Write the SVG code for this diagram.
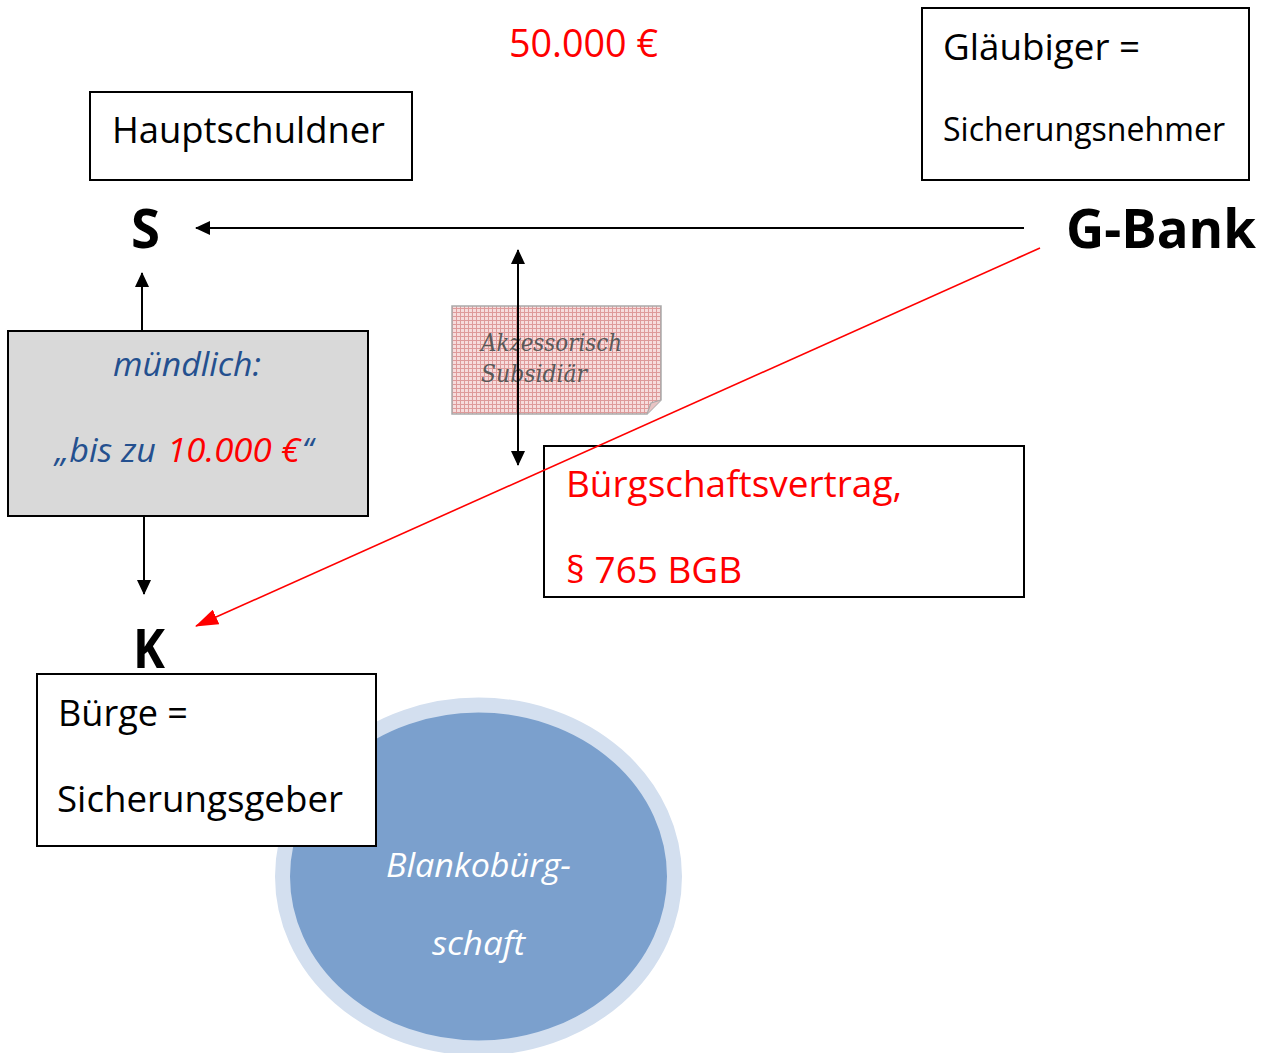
<svg xmlns="http://www.w3.org/2000/svg" width="1264" height="1053" viewBox="0 0 1264 1053">
<style>
.t{font-family:"Open Sans","Noto Sans","DejaVu Sans",sans-serif;}
.box{fill:#fff;stroke:#000;stroke-width:2;}
.b{font-weight:bold;}
.i{font-style:italic;}
.red{fill:#ff0000;}
.blue{fill:#24508f;}
.ln{stroke:#000;stroke-width:2;fill:none;}
.rl{stroke:#ff0000;stroke-width:1.6;fill:none;}
</style>
<defs>
<marker id="ah" markerUnits="userSpaceOnUse" markerWidth="16" markerHeight="14" refX="14" refY="7" orient="auto-start-reverse">
<path d="M0,0 L15,7 L0,14 Z" fill="#000"/>
</marker>
<marker id="ahr" markerUnits="userSpaceOnUse" markerWidth="24" markerHeight="16" refX="22" refY="8" orient="auto">
<path d="M0,0 L23,8 L0,16 Z" fill="#ff0000"/>
</marker>
<pattern id="grid" patternUnits="userSpaceOnUse" width="4" height="4">
<rect width="4" height="4" fill="#f6dcdc"/>
<path d="M0,0.5 H4 M0.5,0 V4" stroke="#de9a9a" stroke-width="1"/>
</pattern>
</defs>

<text class="t red" x="509" y="57" font-size="38" textLength="149" lengthAdjust="spacingAndGlyphs">50.000 €</text>

<g id="glaeubiger">
<rect class="box" x="922" y="8" width="327" height="172"/>
<text class="t" x="943" y="60" font-size="36" textLength="197" lengthAdjust="spacingAndGlyphs">Gläubiger =</text>
<text class="t" x="943" y="141" font-size="32" textLength="282" lengthAdjust="spacingAndGlyphs">Sicherungsnehmer</text>
</g>

<g id="hauptschuldner">
<rect class="box" x="90" y="92" width="322" height="88"/>
<text class="t" x="112" y="143" font-size="36" textLength="273" lengthAdjust="spacingAndGlyphs">Hauptschuldner</text>
</g>

<g id="S"><text class="t b" x="131" y="248" font-size="54" textLength="29" lengthAdjust="spacingAndGlyphs">S</text></g>
<g id="GBank"><text class="t b" x="1066" y="248" font-size="54" textLength="190" lengthAdjust="spacingAndGlyphs">G-Bank</text></g>

<g id="note">
<path d="M452,306 H661 V400 L647,414 H452 Z" fill="url(#grid)" stroke="#aaaaaa" stroke-width="1.5"/>
<path d="M647,414 L651,403 L661,400" fill="#e8c4c4" stroke="#aaaaaa" stroke-width="1.2"/>
<text x="481" y="351" font-family="'DejaVu Serif','Liberation Serif',serif" font-style="italic" font-size="24" fill="#595959" textLength="141" lengthAdjust="spacingAndGlyphs">Akzessorisch</text>
<text x="481" y="382" font-family="'DejaVu Serif','Liberation Serif',serif" font-style="italic" font-size="24" fill="#595959" textLength="106" lengthAdjust="spacingAndGlyphs">Subsidiär</text>
</g>

<g id="muendlich">
<rect x="8" y="331" width="360" height="185" fill="#d9d9d9" stroke="#000" stroke-width="2"/>
<text class="t i blue" x="113" y="376" font-size="32" textLength="148" lengthAdjust="spacingAndGlyphs">mündlich:</text>
<text class="t i blue" x="55" y="462" font-size="32" textLength="101" lengthAdjust="spacingAndGlyphs">„bis zu</text>
<text class="t i red" x="167" y="462" font-size="32" textLength="133" lengthAdjust="spacingAndGlyphs">10.000 €</text>
<text class="t i blue" x="302" y="462" font-size="32">“</text>
</g>

<g id="buergschaft">
<rect class="box" x="544" y="446" width="480" height="151"/>
<text class="t red" x="566" y="497" font-size="36" textLength="336" lengthAdjust="spacingAndGlyphs">Bürgschaftsvertrag,</text>
<text class="t red" x="566" y="583" font-size="36" textLength="176" lengthAdjust="spacingAndGlyphs">§ 765 BGB</text>
</g>

<g id="blanko">
<ellipse cx="478.5" cy="876.5" rx="196" ry="171.5" fill="#7ba0cd" stroke="#d3dfef" stroke-width="15"/>
<text class="t i" x="386" y="877" font-size="32" fill="#ffffff" textLength="185" lengthAdjust="spacingAndGlyphs">Blankobürg-</text>
<text class="t i" x="432" y="955" font-size="32" fill="#ffffff" textLength="93" lengthAdjust="spacingAndGlyphs">schaft</text>
</g>

<g id="K"><text class="t b" x="133" y="668" font-size="54" textLength="32" lengthAdjust="spacingAndGlyphs">K</text></g>

<g id="buerge">
<rect class="box" x="37" y="674" width="339" height="172"/>
<text class="t" x="58" y="726" font-size="36" textLength="130" lengthAdjust="spacingAndGlyphs">Bürge =</text>
<text class="t" x="57" y="812" font-size="36" textLength="286" lengthAdjust="spacingAndGlyphs">Sicherungsgeber</text>
</g>

<g id="connectors">
<line class="ln" x1="1024" y1="228" x2="196" y2="228" marker-end="url(#ah)"/>
<line class="ln" x1="518" y1="250" x2="518" y2="465" marker-start="url(#ah)" marker-end="url(#ah)"/>
<line class="ln" x1="142" y1="331" x2="142" y2="273" marker-end="url(#ah)"/>
<line class="ln" x1="144" y1="516" x2="144" y2="594" marker-end="url(#ah)"/>
<line class="rl" x1="1040" y1="248" x2="196" y2="626" marker-end="url(#ahr)"/>
</g>
</svg>
